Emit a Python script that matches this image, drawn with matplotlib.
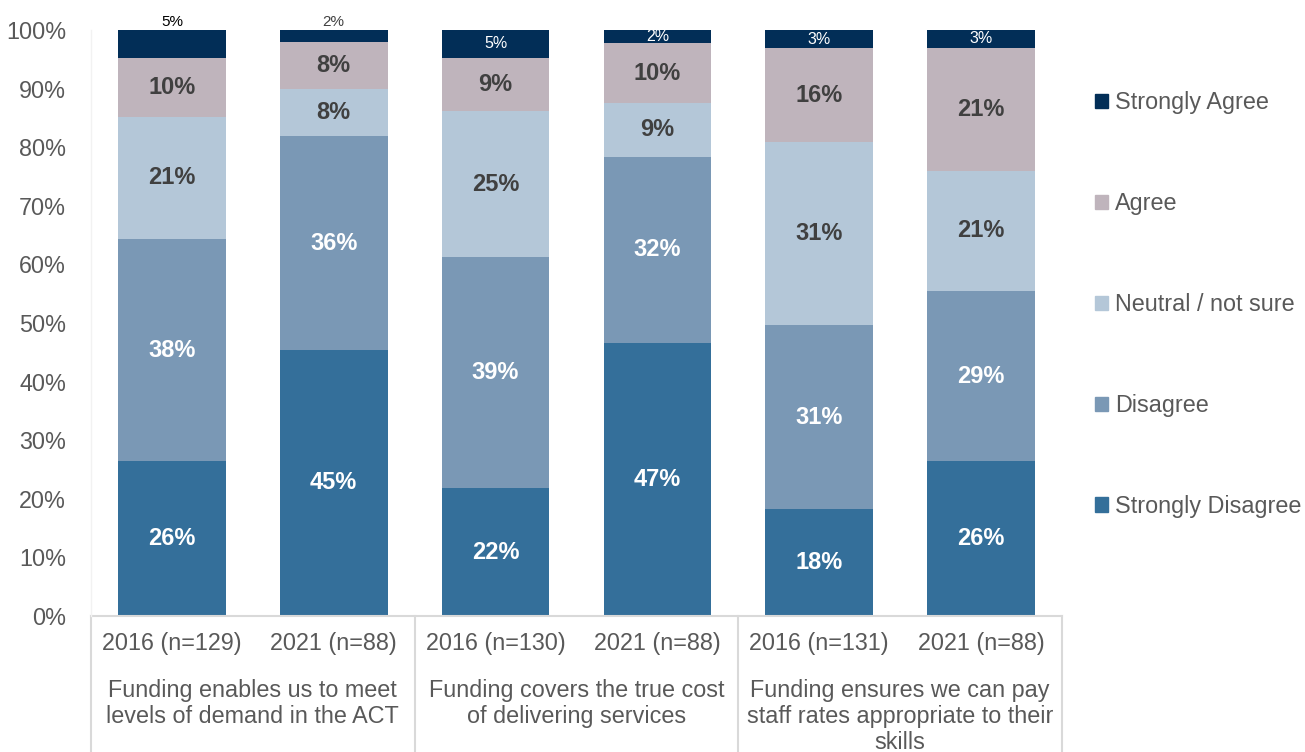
import matplotlib.pyplot as plt
from matplotlib.patches import Patch

plt.rcParams["font.family"] = ["Liberation Sans", "DejaVu Sans"]

years = ["2016 (n=129)", "2021 (n=88)", "2016 (n=130)", "2021 (n=88)", "2016 (n=131)", "2021 (n=88)"]
groups = [
    "Funding enables us to meet\nlevels of demand in the ACT",
    "Funding covers the true cost\nof delivering services",
    "Funding ensures we can pay\nstaff rates appropriate to their\nskills",
]
series = ["Strongly Disagree", "Disagree", "Neutral / not sure", "Agree", "Strongly Agree"]
strongly_disagree = [26.4, 45.4, 21.8, 46.6, 18.3, 26.5]
disagree = [37.9, 36.5, 39.4, 31.8, 31.3, 28.9]
neutral = [20.9, 8.0, 24.9, 9.1, 31.3, 20.6]
agree = [10.1, 8.0, 9.2, 10.2, 16.0, 21.0]
strongly_agree = [4.7, 2.1, 4.7, 2.3, 3.1, 3.0]

colors = ["#346F9A", "#7A98B5", "#B4C7D8", "#BFB4BC", "#022E57"]
label_colors = ["white", "white", "#404040", "#404040", "white"]
text_gray = "#595959"
line_gray = "#D9D9D9"

fig = plt.figure(figsize=(13.05, 7.52), dpi=100)
ax = fig.add_axes([91 / 1305, 1 - 616 / 752, (1062 - 91) / 1305, (616 - 30) / 752])

data = [strongly_disagree, disagree, neutral, agree, strongly_agree]
x = list(range(len(years)))
bottom = [0.0] * len(years)
for k, vals in enumerate(data):
    ax.bar(x, vals, bottom=bottom, width=0.665, color=colors[k], edgecolor="none", label=series[k])
    for i, v in enumerate(vals):
        mid = bottom[i] + v / 2
        txt = f"{v:.0f}%"
        if k < 4:
            ax.text(i, mid, txt, ha="center", va="center", fontsize=17,
                    fontweight="bold", color=label_colors[k])
        elif i < 2:
            # thin top segment: label sits just above the bar
            ax.text(i, 100.2, txt, ha="center", va="bottom", fontsize=11,
                    color="black" if i == 0 else "#404040")
        else:
            ax.text(i, mid, txt, ha="center", va="center", fontsize=11.5, color="white")
    bottom = [b + v for b, v in zip(bottom, vals)]

ax.set_xlim(-0.5, 5.5)
ax.set_ylim(0, 100)
ax.set_yticks(range(0, 101, 10))
ax.set_yticklabels([f"{t}%" for t in range(0, 101, 10)], fontsize=16.8, color=text_gray)
ax.tick_params(axis="y", length=0, pad=18)
ax.set_xticks([])
for side in ["top", "right", "bottom"]:
    ax.spines[side].set_visible(False)
ax.spines["left"].set_color("#F2F2F2")
ax.spines["left"].set_linewidth(1)

# multi-level category axis
tr = ax.get_xaxis_transform()
ax.plot([-0.5, 5.5], [0, 0], color=line_gray, lw=1.5, transform=tr, clip_on=False)
for xs in [-0.5, 1.5, 3.5, 5.5]:
    ax.plot([xs, xs], [0, -0.26], color=line_gray, lw=1.5, transform=tr, clip_on=False)
for i, yr in enumerate(years):
    ax.text(i, -0.047, yr, ha="center", va="center", fontsize=16.8, color=text_gray, transform=tr)
for g, name in enumerate(groups):
    ax.text(2 * g + 0.5, -0.108, name, ha="center", va="top", fontsize=16.8,
            color=text_gray, transform=tr, linespacing=1.17)

handles = [Patch(color=colors[k]) for k in range(4, -1, -1)]
labels = [series[k] for k in range(4, -1, -1)]
fig.legend(handles, labels, loc="upper left", bbox_to_anchor=(1095 / 1305, 1 - 91 / 752),
           frameon=False, fontsize=16.8, labelcolor=text_gray, handlelength=0.55,
           handleheight=0.55, handletextpad=0.3, labelspacing=3.34, borderpad=0,
           borderaxespad=0)

fig.savefig("out.png", dpi=100)
